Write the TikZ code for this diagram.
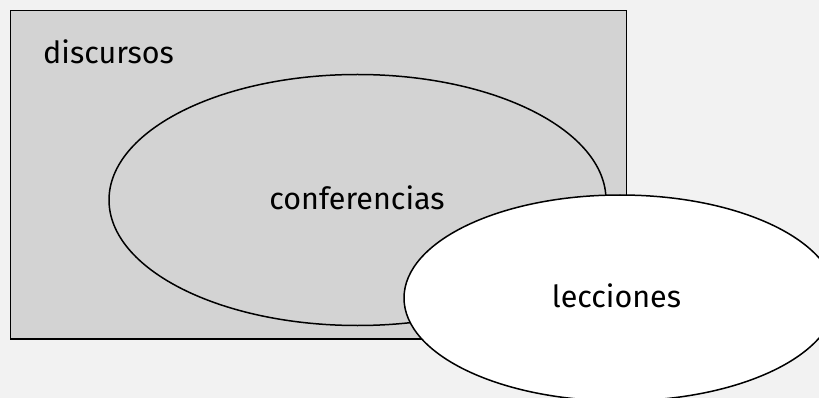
\documentclass[tikz,border=0pt]{standalone}
\usepackage{fontspec}
\setmainfont{Fira Sans}
\usetikzlibrary{shapes.geometric}
\definecolor{bg}{HTML}{F2F2F2}
\definecolor{boxfill}{HTML}{D3D3D3}
\tikzset{
  set/.style={draw=black, line width=1.5pt},
  lbl/.style={font=\fontsize{30.5}{36}\selectfont, inner sep=0pt},
}
\begin{document}
\begin{tikzpicture}[x=1pt,y=-1pt]
\clip (0,0) rectangle (819,398);
\fill[bg] (0,0) rectangle (819,398);
\node[set, fill=boxfill, rectangle, minimum width=616pt, minimum height=328pt, inner sep=0pt, anchor=north west] (discursos) at (9.5,10) {};
\node[lbl, anchor=base west] (tdisc) at (43,63.5) {discursos};
\node[set, fill=boxfill, ellipse, minimum width=497pt, minimum height=251pt, inner sep=0pt] (conf) at (357.5,200) {};
\node[lbl, anchor=base] (tconf) at (357,210) {conferencias};
\node[set, fill=white, ellipse, minimum width=432pt, minimum height=206pt, inner sep=0pt] (lecc) at (620,298) {};
\node[lbl, anchor=base] (tlecc) at (616.5,307) {lecciones};
\end{tikzpicture}
\end{document}
